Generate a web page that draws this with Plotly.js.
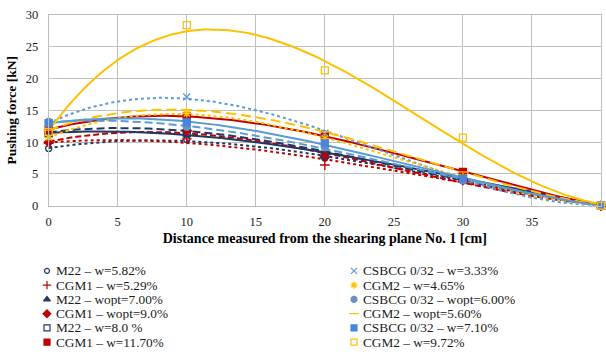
<!DOCTYPE html>
<html><head><meta charset="utf-8">
<script src="https://cdn.plot.ly/plotly-3.0.1.min.js"></script>
<style>html,body{margin:0;padding:0;background:#fff}#chart{width:606px;height:354px}</style>
</head><body><div id="chart"></div>
<script>
// Distance from shearing plane No. 1 [cm]
const distance = [0, 10, 20, 30, 40];

// Pushing force [kN] per series
const m22_w582    = [9.0, 10.4, 7.5, 4.1, 0];
const cgm1_w529   = [9.8, 10.5, 6.4, 4.2, 0];
const m22_wopt700 = [11.5, 12.0, 8.2, 4.2, 0];
const cgm1_wopt90 = [10.0, 11.8, 7.7, 4.0, 0];
const m22_w80     = [11.4, 11.4, 8.0, 4.6, 0];
const cgm1_w1170  = [12.0, 14.0, 11.0, 5.3, 0];
const csbcg_w333  = [12.9, 17.1, 11.4, 4.4, 0];
const cgm2_w465   = [10.7, 14.5, 10.6, 4.5, 0];
const csbcg_wopt600 = [13.2, 12.4, 9.2, 4.0, 0];
const cgm2_wopt560  = [11.9, 15.1, 11.6, 5.3, 0];
const csbcg_w710  = [13.0, 13.1, 9.8, 4.2, 0];
const cgm2_w972   = [11.6, 28.4, 21.3, 10.7, 0];

const seriesNames = [
  "M22 – w=5.82%", "CGM1 – w=5.29%", "M22 – wopt=7.00%", "CGM1 – wopt=9.0%",
  "M22 – w=8.0 %", "CGM1 – w=11.70%",
  "CSBCG 0/32 – w=3.33%", "CGM2 – w=4.65%", "CSBCG 0/32 – wopt=6.00%",
  "CGM2 – wopt=5.60%", "CSBCG 0/32 – w=7.10%", "CGM2 – w=9.72%"
];
const seriesValues = [m22_w582, cgm1_w529, m22_wopt700, cgm1_wopt90, m22_w80, cgm1_w1170,
  csbcg_w333, cgm2_w465, csbcg_wopt600, cgm2_wopt560, csbcg_w710, cgm2_w972];

const NAVY = '#1F3864', RED = '#C00000', BLUE = '#5B9BD5', GOLD = '#FFC000';
const styles = [
  {c: NAVY, sym: 'circle-open', size: 6, mc: NAVY, dash: 'dot'},
  {c: RED, sym: 'cross-thin-open', size: 7, mc: RED, dash: 'dot'},
  {c: NAVY, sym: 'triangle-up', size: 7, mc: NAVY, dash: '8px,4px'},
  {c: RED, sym: 'diamond', size: 7, mc: RED, dash: '6px,3px'},
  {c: NAVY, sym: 'square-open', size: 7, mc: NAVY, dash: 'solid'},
  {c: RED, sym: 'square', size: 7, mc: RED, dash: 'solid'},
  {c: BLUE, sym: 'x-thin-open', size: 7, mc: BLUE, dash: 'dot'},
  {c: GOLD, sym: 'asterisk-open', size: 7, mc: GOLD, dash: 'dot'},
  {c: BLUE, sym: 'circle', size: 7, mc: '#6F8FC0', dash: '8px,4px'},
  {c: GOLD, sym: 'line-ew-open', size: 8, mc: GOLD, dash: '10px,5px'},
  {c: BLUE, sym: 'square', size: 7, mc: '#4A86D8', dash: 'solid'},
  {c: GOLD, sym: 'square-open', size: 7, mc: GOLD, dash: 'solid'}
];

const SERIF = '"Liberation Serif", "Times New Roman", "DejaVu Serif", serif';

// least-squares polynomial trendline (order 3), as in the original chart
function polyfit(xs, ys, order) {
  const n = order + 1;
  const A = Array.from({length: n}, () => new Array(n + 1).fill(0));
  for (let k = 0; k < xs.length; k++) {
    const t = xs[k] / 40;
    for (let i = 0; i < n; i++) {
      for (let j = 0; j < n; j++) A[i][j] += Math.pow(t, i + j);
      A[i][n] += ys[k] * Math.pow(t, i);
    }
  }
  for (let i = 0; i < n; i++) {
    let p = i;
    for (let r = i + 1; r < n; r++) { if (Math.abs(A[r][i]) > Math.abs(A[p][i])) p = r; }
    const tmp = A[i]; A[i] = A[p]; A[p] = tmp;
    for (let r = 0; r < n; r++) {
      if (r === i) continue;
      const fct = A[r][i] / A[i][i];
      for (let c = i; c <= n; c++) A[r][c] -= fct * A[i][c];
    }
  }
  const coef = A.map((row, i) => row[n] / row[i]);
  return x => coef.reduce((s, a, i) => s + a * Math.pow(x / 40, i), 0);
}

const traces = [];
const xMin = distance[0], xMax = distance[distance.length - 1];
const trendX = [];
for (let i = 0; i <= 160; i++) trendX.push(xMin + (xMax - xMin) * i / 160);

// trendlines first (drawn below markers)
seriesValues.forEach((vals, i) => {
  const f = polyfit(distance, vals, 3);
  const st = styles[i];
  traces.push({
    x: trendX, y: trendX.map(f), mode: 'lines', showlegend: false, hoverinfo: 'skip',
    line: {color: st.c, width: 2, dash: st.dash}
  });
});
seriesValues.forEach((vals, i) => {
  const st = styles[i];
  traces.push({
    x: distance, y: vals, mode: 'markers', name: seriesNames[i], showlegend: false,
    cliponaxis: false,
    marker: {symbol: st.sym, size: st.size, color: st.mc, line: {color: st.mc, width: 1.3}}
  });
});

// custom two-column legend (6 rows each) on a hidden auxiliary axis
const legendCol = seriesNames.map((_, i) => Math.floor(i / 6));
const legendRow = seriesNames.map((_, i) => i % 6);
const annotations = [];
seriesNames.forEach((nm, i) => {
  const st = styles[i];
  traces.push({
    x: [legendCol[i]], y: [legendRow[i]], xaxis: 'x2', yaxis: 'y2', mode: 'markers',
    showlegend: false, hoverinfo: 'skip', cliponaxis: false,
    marker: {symbol: st.sym, size: st.size - 1, color: st.mc, line: {color: st.mc, width: 1.2}}
  });
  annotations.push({
    xref: 'x2', yref: 'y2', x: legendCol[i], y: legendRow[i], text: nm,
    showarrow: false, xanchor: 'left', yanchor: 'middle', xshift: 8,
    height: 13, borderpad: 0, valign: 'middle',
    font: {family: SERIF, size: 13.3, color: '#1a1a1a'}
  });
});

const H = 354, T = 15, B = 6, area = H - T - B;
const plotBottomPx = 205.7;
const mainBottom = 1 - (plotBottomPx - T) / area;
const legTopPx = 268, legBotPx = 345;
const legDomain = [(H - B - legBotPx) / area, (H - B - legTopPx) / area];

const L = 40, R = 5, W = 606 - L - R;
const plotLeftPx = 48.7;
// column 0 marker at px 47, column 1 at px 354
const col0Px = 47, colStep = 307;
const x2start = -(col0Px - L) / colStep;
const x2range = [x2start, x2start + W / colStep];

const layout = {
  width: 606, height: 354,
  margin: {l: L, r: R, t: T, b: B},
  paper_bgcolor: '#fff', plot_bgcolor: '#fff',
  showlegend: false,
  font: {family: SERIF, size: 12, color: '#1a1a1a'},
  xaxis: {
    range: [0, 40], dtick: 5, domain: [(plotLeftPx - L) / W, 1], anchor: 'y',
    showgrid: true, gridcolor: '#BFBFBF', gridwidth: 1,
    showline: true, linecolor: '#BFBFBF', mirror: true, zeroline: false,
    ticks: '', ticklabelstandoff: 4, tickfont: {family: SERIF, size: 12.5, color: '#1a1a1a'},
    title: {text: '<b>Distance measured from the shearing plane No. 1 [cm]</b>',
      font: {family: SERIF, size: 14, color: '#000'}, standoff: 5}
  },
  yaxis: {
    range: [0, 30], dtick: 5, domain: [mainBottom, 1], anchor: 'x',
    showgrid: true, gridcolor: '#BFBFBF', gridwidth: 1,
    showline: true, linecolor: '#BFBFBF', mirror: true, zeroline: false,
    ticks: '', ticklabelstandoff: 7, tickfont: {family: SERIF, size: 12.5, color: '#1a1a1a'},
    title: {text: '<b>Pushing force [kN]</b>',
      font: {family: SERIF, size: 13.5, color: '#000'}, standoff: 5}
  },
  xaxis2: {range: x2range, domain: [0, 1], anchor: 'y2', visible: false, fixedrange: true},
  yaxis2: {range: [5.2, -0.2], domain: legDomain, anchor: 'x2', visible: false, fixedrange: true},
  annotations: annotations
};

Plotly.newPlot('chart', traces, layout, {displayModeBar: false, staticPlot: true});
</script></body></html>
